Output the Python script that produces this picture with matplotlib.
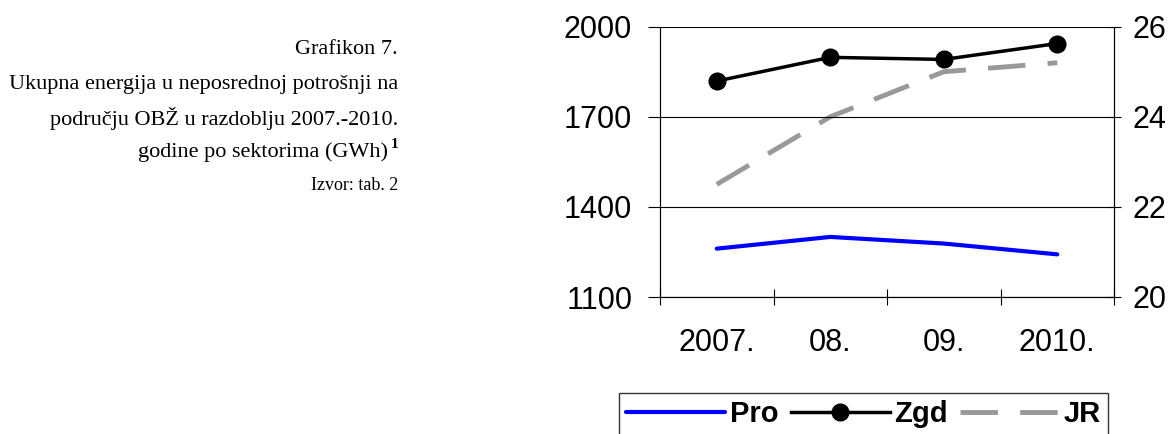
import matplotlib
matplotlib.use("Agg")
import matplotlib.pyplot as plt
import numpy as np

categories = ["2007.", "08.", "09.", "2010."]
pro = [1261, 1300, 1278, 1242]
zgd = [1819, 1898, 1891, 1944]
jr = [22.5, 24.0, 25.0, 25.2]
left_ticks = [1100, 1400, 1700, 2000]
right_ticks = [20, 22, 24, 26]

plt.rcParams['lines.scale_dashes'] = False
W, H = 1172, 434
fig = plt.figure(figsize=(W / 100, H / 100), dpi=100)
ax = fig.add_axes([660 / W, 1 - 297 / H, (1114 - 660) / W, (297 - 26.7) / H])
ax2 = ax.twinx()

x = np.arange(len(categories))
sans = 'Liberation Sans'
serif = 'Liberation Serif'

l1, = ax.plot(x, pro, color='#0000FF', lw=3, solid_capstyle='round', label='Pro', zorder=3)
l2, = ax.plot(x, zgd, color='black', lw=2.5, marker='o', markersize=12, label='Zgd', zorder=4)
l3, = ax2.plot(x, jr, color='#999999', lw=3.5, linestyle=(0, (27, 16)), label='JR', zorder=2)

ax.set_xlim(-0.5, 3.5)
ax.set_ylim(1100, 2000)
ax2.set_ylim(20, 26)
ax.set_yticks(left_ticks)
ax2.set_yticks(right_ticks)
ax.set_xticks(x)
ax.set_xticklabels(categories)
ax.set_xticks(np.arange(-0.5, 4, 1), minor=True)
ax.tick_params(axis='x', which='major', length=0, pad=22, labelsize=22)
ax.tick_params(axis='x', which='minor', length=12, width=0.8, direction='inout')
ax.tick_params(axis='y', length=9, width=0.8, labelsize=22, pad=11)
ax2.tick_params(axis='y', length=10, width=0.8, labelsize=22, pad=8, direction='inout')
for lab in ax.get_xticklabels() + ax.get_yticklabels() + ax2.get_yticklabels():
    lab.set_fontfamily(sans)

ax.grid(axis='y', color='black', lw=0.8)
for a in (ax, ax2):
    a.spines['top'].set_visible(False)
    for s in ('left', 'right', 'bottom'):
        a.spines[s].set_linewidth(0.8)
ax.set_zorder(ax2.get_zorder() + 1)
ax.patch.set_visible(False)

leg = fig.legend([l1, l2, l3], ['Pro', 'Zgd', 'JR'], loc='upper left',
                 bbox_to_anchor=(619 / W, 1 - 393 / H), ncol=3,
                 prop={'family': sans, 'weight': 'bold', 'size': 21},
                 handlelength=3.4, handletextpad=0.15, columnspacing=0.42,
                 borderpad=0.25, borderaxespad=0, frameon=True, fancybox=False)
leg.get_frame().set_edgecolor('black')
leg.get_frame().set_linewidth(1)

xr = 398 / W
fig.text(xr, 1 - 50 / H, "Grafikon 7.", ha='right', va='center', family=serif, fontsize=16)
fig.text(xr, 1 - 84 / H, "Ukupna energija u neposrednoj potrošnji na", ha='right', va='center', family=serif, fontsize=16)
fig.text(xr, 1 - 118 / H, "području OBŽ u razdoblju 2007.-2010.", ha='right', va='center', family=serif, fontsize=16)
fig.text(388 / W, 1 - 152 / H, "godine po sektorima (GWh)", ha='right', va='center', family=serif, fontsize=16)
fig.text(xr, 1 - 145 / H, "1", ha='right', va='center', family=serif, fontsize=11, weight='bold')
fig.text(xr, 1 - 185 / H, "Izvor: tab. 2", ha='right', va='center', family=serif, fontsize=13)

fig.savefig("out.png", dpi=100)
